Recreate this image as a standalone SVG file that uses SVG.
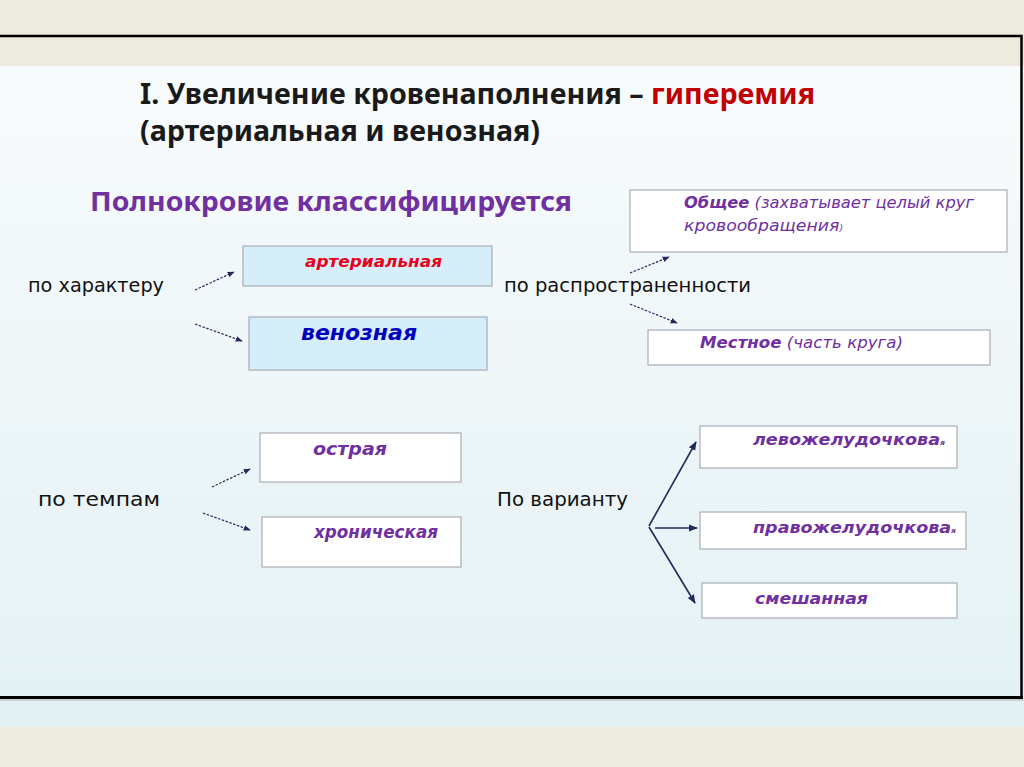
<svg xmlns="http://www.w3.org/2000/svg" width="1024" height="767" viewBox="0 0 1024 767">
<defs>
<linearGradient id="bg" x1="0" y1="0" x2="0" y2="1">
<stop offset="0" stop-color="#F8FBFC"/>
<stop offset="1" stop-color="#E3F1F4"/>
</linearGradient>
<marker id="ah" viewBox="0 0 10 10" refX="9" refY="5" markerWidth="7" markerHeight="7" orient="auto" markerUnits="userSpaceOnUse">
<path d="M0,1 L10,5 L0,9 z" fill="#1F2A5C"/>
</marker>
<marker id="ah2" viewBox="0 0 10 10" refX="9" refY="5" markerWidth="9" markerHeight="9" orient="auto" markerUnits="userSpaceOnUse">
<path d="M0,1 L10,5 L0,9 z" fill="#1F2A5C"/>
</marker>
</defs>
<style>
.title{font-family:"Noto Sans","DejaVu Sans",sans-serif;font-weight:bold;font-size:28px;fill:#1a1a1a}
.head{font-family:"Noto Sans","DejaVu Sans",sans-serif;font-weight:bold;font-size:26px;fill:#7030A0}
.lbl{font-family:"DejaVu Sans",sans-serif;font-size:19px;fill:#111}
.bi{font-family:"DejaVu Sans",sans-serif;font-weight:bold;font-style:italic;fill:#7030A0}
.it{font-family:"DejaVu Sans",sans-serif;font-style:italic;fill:#7030A0}
.bx{fill:#FFFFFF;stroke:#A7AEB5;stroke-width:1.2}
.bxb{fill:#D6EEFA;stroke:#A7AEB5;stroke-width:1.2}
.dash{stroke:#1F2A5C;stroke-width:1.2;stroke-dasharray:2.5 1.5;fill:none;marker-end:url(#ah)}
.sol{stroke:#1F2A5C;stroke-width:1.6;fill:none;marker-end:url(#ah2)}
</style>
<rect x="0" y="0" width="1024" height="767" fill="#EDEBDF"/>
<rect x="0" y="66" width="1024" height="661" fill="url(#bg)"/>
<path d="M0,36 H1021.5 V697" fill="none" stroke="#000" stroke-width="2.5"/>
<line x1="0" y1="697.5" x2="1023" y2="697.5" stroke="#000" stroke-width="3"/>
<line x1="0" y1="700" x2="1023" y2="700" stroke="#7E8C8E" stroke-width="1" opacity="0.6"/>
<g id="title">
<text class="title" x="140" y="104" textLength="675" lengthAdjust="spacingAndGlyphs">I. Увеличение кровенаполнения – <tspan fill="#C00000">гиперемия</tspan></text>
<text class="title" x="140" y="141" textLength="400" lengthAdjust="spacingAndGlyphs">(артериальная и венозная)</text>
</g>
<g id="heading">
<text class="head" x="90" y="211" textLength="482" lengthAdjust="spacingAndGlyphs">Полнокровие классифицируется</text>
</g>
<g id="lbl-character"><text class="lbl" x="28" y="292" textLength="136" lengthAdjust="spacingAndGlyphs">по характеру</text></g>
<g id="lbl-spread"><text class="lbl" x="504" y="292" textLength="247" lengthAdjust="spacingAndGlyphs">по распространенности</text></g>
<g id="lbl-tempo"><text class="lbl" x="38" y="506" textLength="122" lengthAdjust="spacingAndGlyphs">по темпам</text></g>
<g id="lbl-variant"><text class="lbl" x="497" y="506" textLength="131" lengthAdjust="spacingAndGlyphs">По варианту</text></g>
<g id="n-arterial">
<rect class="bxb" x="243" y="246" width="249" height="40"/>
<text class="bi" x="305" y="267" font-size="16" fill="#E8001C" style="fill:#E8001C" textLength="137" lengthAdjust="spacingAndGlyphs">артериальная</text>
</g>
<g id="n-venous">
<rect class="bxb" x="249" y="317" width="238" height="53"/>
<text class="bi" x="301" y="340" font-size="22" style="fill:#0000C0" textLength="116" lengthAdjust="spacingAndGlyphs">венозная</text>
</g>
<g id="n-general">
<rect class="bx" x="630" y="190" width="377" height="62"/>
<text x="684" y="208" font-size="15" textLength="290" lengthAdjust="spacingAndGlyphs"><tspan class="bi">Общее</tspan><tspan class="it"> (захватывает целый круг</tspan></text>
<text class="it" x="684" y="231" font-size="15" textLength="159" lengthAdjust="spacingAndGlyphs">кровообращения<tspan font-size="8">)</tspan></text>
</g>
<g id="n-local">
<rect class="bx" x="648" y="330" width="342" height="35"/>
<text x="700" y="348" font-size="15" textLength="203" lengthAdjust="spacingAndGlyphs"><tspan class="bi">Местное</tspan><tspan class="it"> (часть круга)</tspan></text>
</g>
<g id="n-acute">
<rect class="bx" x="260" y="433" width="201" height="49"/>
<text class="bi" x="313" y="455" font-size="17" textLength="74" lengthAdjust="spacingAndGlyphs">острая</text>
</g>
<g id="n-chronic">
<rect class="bx" x="262" y="517" width="199" height="50"/>
<text class="bi" x="314" y="538" font-size="17" textLength="124" lengthAdjust="spacingAndGlyphs">хроническая</text>
</g>
<g id="n-left">
<rect class="bx" x="700" y="426" width="257" height="42"/>
<text class="bi" x="753" y="445" font-size="16" textLength="192" lengthAdjust="spacingAndGlyphs">левожелудочкова<tspan font-size="7">я</tspan></text>
</g>
<g id="n-right">
<rect class="bx" x="700" y="512" width="266" height="37"/>
<text class="bi" x="753" y="533" font-size="16" textLength="203" lengthAdjust="spacingAndGlyphs">правожелудочкова<tspan font-size="7">я</tspan></text>
</g>
<g id="n-mixed">
<rect class="bx" x="702" y="583" width="255" height="35"/>
<text class="bi" x="755" y="604" font-size="16" textLength="113" lengthAdjust="spacingAndGlyphs">смешанная</text>
</g>
<g id="connectors">
<line class="dash" x1="195" y1="290" x2="234" y2="272"/>
<line class="dash" x1="195" y1="324" x2="242" y2="341"/>
<line class="dash" x1="630" y1="273" x2="669" y2="257"/>
<line class="dash" x1="630" y1="304" x2="677" y2="323"/>
<line class="dash" x1="212" y1="487" x2="250" y2="469"/>
<line class="dash" x1="203" y1="513" x2="250" y2="530"/>
<line class="sol" x1="649" y1="526" x2="696" y2="442"/>
<line class="sol" x1="655" y1="528" x2="697" y2="528"/>
<line class="sol" x1="649" y1="527" x2="695" y2="603"/>
</g>
</svg>
